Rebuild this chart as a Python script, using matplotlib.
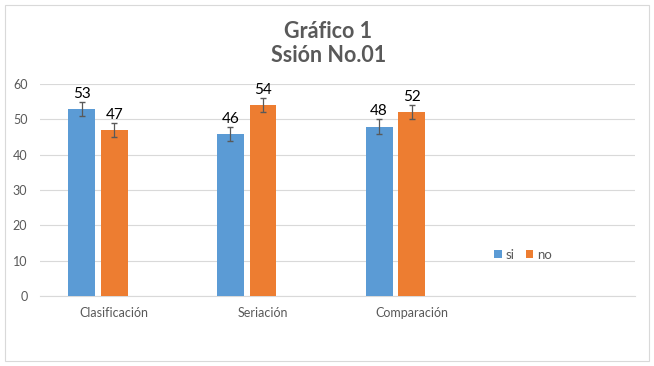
import matplotlib.pyplot as plt
import numpy as np

categories = ["Clasificación", "Seriación", "Comparación", ""]
si_values = [53, 46, 48, None]
no_values = [47, 54, 52, None]
si_err = [2, 2, 2]
no_err = [2, 2, 2]

plt.rcParams['font.family'] = ['Lato', 'DejaVu Sans']

fig = plt.figure(figsize=(6.54, 3.66), dpi=100)
ax = fig.add_axes([0.061, 0.191, 0.91, 0.579])

# a light frame around the whole chart
fig.patches.append(plt.Rectangle((0.008, 0.014), 0.984, 0.972, transform=fig.transFigure,
                                 fill=False, edgecolor='#D9D9D9', linewidth=0.8))

x = np.arange(len(categories))
width = 0.18
offset = 0.22

si = [v for v in si_values if v is not None]
no = [v for v in no_values if v is not None]
xs = x[:len(si)]

ax.bar(xs - offset, si, width, color='#5B9BD5', label='si', zorder=3)
ax.bar(xs, no, width, color='#ED7D31', label='no', zorder=3)
ax.errorbar(xs - offset, si, yerr=si_err, fmt='none', ecolor='#595959', elinewidth=0.9, capsize=2.5, zorder=4)
ax.errorbar(xs, no, yerr=no_err, fmt='none', ecolor='#595959', elinewidth=0.9, capsize=2.5, zorder=4)

for xi, v, e in zip(xs - offset, si, si_err):
    ax.text(xi, v + e + 0.3, str(v), ha='center', va='bottom', fontsize=11, color='#000000')
for xi, v, e in zip(xs, no, no_err):
    ax.text(xi, v + e + 0.3, str(v), ha='center', va='bottom', fontsize=11, color='#000000')

ax.set_xlim(-0.5, len(categories) - 0.5)
ax.set_ylim(0, 60)
ax.set_yticks(range(0, 61, 10))
ax.set_xticks(x)
ax.set_xticklabels(categories)
ax.tick_params(axis='both', length=0, labelsize=9, labelcolor='#595959')
ax.tick_params(axis='x', pad=8)
ax.tick_params(axis='y', pad=9)
ax.grid(axis='y', color='#D9D9D9', linewidth=0.8, zorder=0)
for s in ['top', 'right', 'left']:
    ax.spines[s].set_visible(False)
ax.spines['bottom'].set_color('#D9D9D9')

fig.text(0.502, 0.914, "Gráfico 1", ha='center', va='center', fontsize=15.5, fontweight='bold', color='#595959')
fig.text(0.502, 0.847, "Ssión No.01", ha='center', va='center', fontsize=15.5, fontweight='bold', color='#595959')

ax.legend(loc='center', bbox_to_anchor=(0.812, 0.195), ncol=2, frameon=False, fontsize=9.5,
          handlelength=0.6, handleheight=0.6, handletextpad=0.3, columnspacing=0.8, labelcolor='#595959')

fig.savefig('out.png', dpi=100)
